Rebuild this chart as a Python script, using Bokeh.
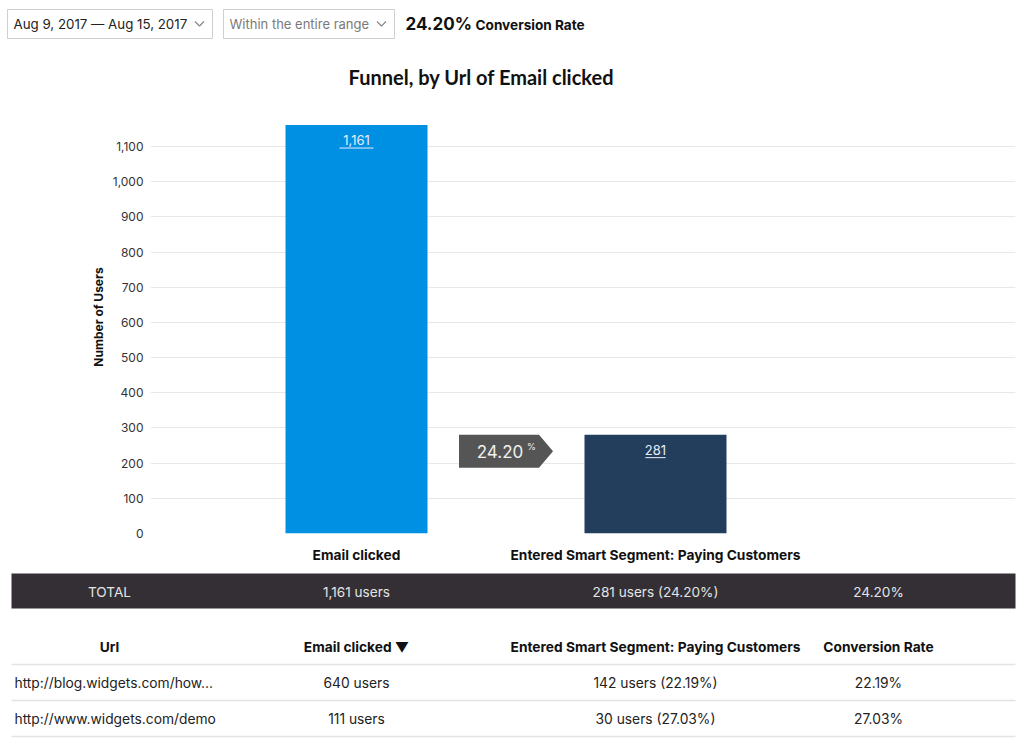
from bokeh.plotting import figure
from bokeh.models import Range1d, FixedTicker, ColumnDataSource
from bokeh.core.properties import value
from bokeh.embed import file_html
from bokeh.resources import INLINE

# ---------------- data ----------------
steps = ["Email clicked", "Entered Smart Segment: Paying Customers"]
users = [1161, 281]
step_labels = ["1,161", "281"]
conversion_label = "24.20"
y_ticks = [0, 100, 200, 300, 400, 500, 600, 700, 800, 900, 1000, 1100]

date_range_text = "Aug 9, 2017 \u2014 Aug 15, 2017"
window_text = "Within the entire range"
overall_rate = "24.20%"
title_text = "Funnel, by Url of Email clicked"

total_row = ["TOTAL", "1,161 users", "281 users (24.20%)", "24.20%"]
table_header = ["Url", "Email clicked \u25bc", "Entered Smart Segment: Paying Customers", "Conversion Rate"]
url_names = ["http://blog.widgets.com/how...", "http://www.widgets.com/demo"]
url_clicked = ["640 users", "111 users"]
url_converted = ["142 users (22.19%)", "30 users (27.03%)"]
url_rates = ["22.19%", "27.03%"]

FONT = "Inter"
W = 1024

# ---------------- header (page coordinates) ----------------
HB = 100
hdr = figure(width=W, height=HB, x_range=Range1d(0, W), y_range=Range1d(HB, 0),
             output_backend="svg", toolbar_location=None, min_border=0,
             x_axis_location=None, y_axis_location=None)
hdr.grid.visible = False
hdr.outline_line_color = None
hdr.quad(left=[7, 223], right=[212, 394], top=[9, 9], bottom=[38, 38],
         fill_color="white", line_color="#cfcfcf", line_width=1)
hdr.text(x=[13], y=[23.5], text=[date_range_text], text_font=value(FONT), text_font_size="13.3px",
         text_color="#222222", text_baseline="middle")
hdr.text(x=[229], y=[23.5], text=[window_text], text_font=value(FONT), text_font_size="13px",
         text_color="#7a7a7a", text_baseline="middle")
for cx in (199, 381):
    hdr.line(x=[cx - 4.5, cx, cx + 4.5], y=[21, 25.5, 21], line_color="#888888", line_width=1.2)
hdr.text(x=[405], y=[23], text=[overall_rate], text_font=value(FONT), text_font_size="17px",
         text_font_style="bold", text_color="#111111", text_baseline="middle")
hdr.text(x=[475], y=[24], text=["Conversion Rate"], text_font=value(FONT), text_font_size="13.6px",
         text_font_style="bold", text_color="#111111", text_baseline="middle")
hdr.text(x=[481], y=[76], text=[title_text], text_font=value("Lato"), text_font_size="20px",
         text_font_style="bold", text_color="#111111", text_align="center", text_baseline="middle")

# ---------------- chart ----------------
zero_page = 533
frame_h = zero_page - HB
px_per_user = (533 - 146) / 1100.0
y_end = frame_h / px_per_user
x_px = 299.0  # pixels per step
frame_l, frame_r = 150, 1015
x_start = 1 - (356 - frame_l) / x_px
x_end = 1 + (frame_r - 356) / x_px
bottom_border = 35

p = figure(width=W, height=frame_h + bottom_border,
           x_range=Range1d(x_start, x_end), y_range=Range1d(0, y_end),
           output_backend="svg", toolbar_location=None,
           min_border_left=frame_l, min_border_right=W - frame_r, min_border_top=0,
           min_border_bottom=bottom_border)
p.outline_line_color = None
p.xgrid.visible = False
p.ygrid.grid_line_color = "#e8e8e8"
p.ygrid.ticker = FixedTicker(ticks=y_ticks)
p.yaxis.ticker = FixedTicker(ticks=y_ticks)
p.yaxis.major_label_overrides = {t: f"{t:,}" for t in y_ticks}
p.yaxis.axis_line_color = None
p.yaxis.major_tick_line_color = None
p.yaxis.minor_tick_line_color = None
p.yaxis.major_label_text_font = FONT
p.yaxis.major_label_text_font_size = "12px"
p.yaxis.major_label_text_color = "#333333"
p.yaxis.major_label_standoff = 1
p.yaxis.axis_label = "Number of Users"
p.yaxis.axis_label_text_font = FONT
p.yaxis.axis_label_text_font_size = "12px"
p.yaxis.axis_label_text_font_style = "bold"
p.yaxis.axis_label_text_color = "#111111"
p.yaxis.axis_label_standoff = 4

xpos = [i + 1 for i in range(len(steps))]
p.xaxis.ticker = FixedTicker(ticks=xpos)
p.xaxis.major_label_overrides = {x: s for x, s in zip(xpos, steps)}
p.xaxis.axis_line_color = None
p.xaxis.major_tick_line_color = None
p.xaxis.minor_tick_line_color = None
p.xaxis.major_label_text_font = FONT
p.xaxis.major_label_text_font_size = "13.75px"
p.xaxis.major_label_text_font_style = "bold"
p.xaxis.major_label_text_color = "#111111"
p.xaxis.major_label_standoff = 7

bar_w = 142 / x_px
colors = ["#0090E3", "#233D5C"]
src = ColumnDataSource(dict(x=xpos, top=users, color=colors, label=step_labels))
p.vbar(x="x", top="top", width=bar_w, fill_color="color", line_color=None, source=src)
p.text(x="x", y="top", text="label", source=src, text_font=value(FONT), text_font_size="13px",
       text_color="#e6eefa", text_align="center", text_baseline="top", y_offset=10)
ul_half = [len(s) * 3.4 / x_px for s in step_labels]
p.segment(x0=[x - h for x, h in zip(xpos, ul_half)], x1=[x + h for x, h in zip(xpos, ul_half)],
          y0=[u - 23 / px_per_user for u in users], y1=[u - 23 / px_per_user for u in users],
          line_color="#e6eefa", line_width=1)

mid = (xpos[0] + xpos[1]) / 2
ax0 = mid - 47 / x_px
ax1 = mid + 33 / x_px
axt = mid + 47 / x_px
atop = users[1]
abot = users[1] - 33 / px_per_user
amid = (atop + abot) / 2
p.patch(x=[ax0, ax1, axt, ax1, ax0], y=[atop, atop, amid, abot, abot],
        fill_color="#555555", line_color=None)
p.text(x=[mid - 6 / x_px], y=[amid], text=[conversion_label], text_font=value(FONT),
       text_font_size="17px", text_color="#f0f0f0", text_align="center", text_baseline="middle")
p.text(x=[mid + 21 / x_px], y=[amid + 5 / px_per_user], text=["%"], text_font=value(FONT),
       text_font_size="9px", text_color="#f0f0f0", text_align="left", text_baseline="middle")

# ---------------- table (page coordinates) ----------------
T0 = HB + frame_h + bottom_border
T1 = 745
tb = figure(width=W, height=T1 - T0, x_range=Range1d(0, W), y_range=Range1d(T1, T0),
            output_backend="svg", toolbar_location=None, min_border=0,
            x_axis_location=None, y_axis_location=None)
tb.grid.visible = False
tb.outline_line_color = None
col_x = [109, 356, 655, 878]
tb.quad(left=[11], right=[1015], top=[573], bottom=[608], fill_color="#332F35", line_color=None)
tb.text(x=col_x, y=[591] * 4, text=total_row, text_font=value(FONT), text_font_size="13.6px",
        text_color="#e4e4e4", text_align="center", text_baseline="middle")
tb.text(x=col_x, y=[646] * 4, text=table_header, text_font=value(FONT), text_font_size="13.75px",
        text_font_style="bold", text_color="#111111", text_align="center", text_baseline="middle")
for ly in (664, 700, 736):
    tb.line(x=[11, 1015], y=[ly, ly], line_color="#e3e3e3", line_width=1.5)
row_y = [682, 718]
tb.text(x=[14] * len(url_names), y=row_y, text=url_names, text_font=value(FONT), text_font_size="13.8px",
        text_color="#222222", text_align="left", text_baseline="middle")
for cx, vals in zip(col_x[1:], (url_clicked, url_converted, url_rates)):
    tb.text(x=[cx] * len(vals), y=row_y, text=vals, text_font=value(FONT), text_font_size="13.8px",
            text_color="#222222", text_align="center", text_baseline="middle")

open("out.html", "w").write(file_html([hdr, p, tb], INLINE))
